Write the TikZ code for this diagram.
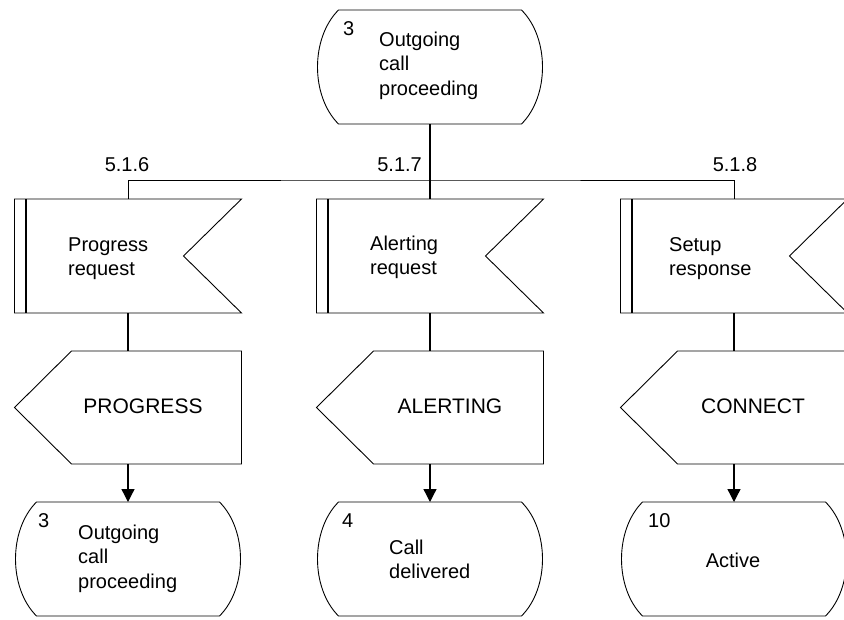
\documentclass[tikz,border=0pt]{standalone}
\usepackage{fontspec}
\setmainfont{Liberation Sans}
\usetikzlibrary{calc,arrows.meta}
\tikzset{
  shapebox/.style={minimum width=227pt, minimum height=114pt, inner sep=0pt, outer sep=0pt},
  outbox/.style={minimum width=227pt, minimum height=113pt, inner sep=0pt, outer sep=0pt},
  outline/.style={line width=0.9pt, line join=miter},
  barline/.style={line width=2pt},
  flow/.style={line width=1.3pt},
  arr/.style={flow, -{Triangle[width=13pt,length=13pt]}},
  txt/.style={font=\fontsize{20}{24.5}\selectfont, inner sep=0pt, align=left},
  captxt/.style={font=\fontsize{21}{25}\selectfont, inner sep=0pt},
}
\newcommand\sdlstate[1]{%
  \draw[outline] ($(#1.north west)+(22,0)$) -- ($(#1.north east)+(-22,0)$)
    .. controls +(28,28) and +(28,-28) .. ($(#1.south east)+(-22,0)$)
    -- ($(#1.south west)+(22,0)$)
    .. controls +(-28,-28) and +(-28,28) .. ($(#1.north west)+(22,0)$) -- cycle;}
\newcommand\sdlinput[1]{%
  \draw[outline] (#1.north west) -- (#1.north east) -- ($(#1.east)+(-58,0)$)
    -- (#1.south east) -- (#1.south west) -- cycle;
  \draw[barline] ($(#1.north west)+(11,0)$) -- ($(#1.south west)+(11,0)$);}
\newcommand\sdloutput[1]{%
  \draw[outline] (#1.west) -- ($(#1.north west)+(57,0)$) -- (#1.north east)
    -- (#1.south east) -- ($(#1.south west)+(57,0)$) -- cycle;}
\begin{document}
\begin{tikzpicture}[x=1pt, y=-1pt]
\useasboundingbox (0,0) rectangle (844,619);
\clip (0,0) rectangle (844,619);

% shape nodes
\node[shapebox] (s0) at (430,67) {};
\node[shapebox] (i1) at (128,256) {};
\node[shapebox] (i2) at (430,256) {};
\node[shapebox] (i3) at (734,256) {};
\node[outbox] (o1) at (128,407.5) {};
\node[outbox] (o2) at (430,407.5) {};
\node[outbox] (o3) at (734,407.5) {};
\node[shapebox] (s1) at (128,559) {};
\node[shapebox] (s2) at (430,559) {};
\node[shapebox] (s3) at (734,559) {};

\sdlstate{s0}
\sdlinput{i1}\sdlinput{i2}\sdlinput{i3}
\sdloutput{o1}\sdloutput{o2}\sdloutput{o3}
\sdlstate{s1}\sdlstate{s2}\sdlstate{s3}

% connectors
\coordinate (j) at (430,180);
\draw[flow] (s0.south) -- (i2.north);
\draw[outline] (i1.north) |- (j) -| (i3.north);
\draw[flow] (i1.south) -- (o1.north);
\draw[flow] (i2.south) -- (o2.north);
\draw[flow] (i3.south) -- (o3.north);
\draw[arr] (o1.south) -- (s1.north);
\draw[arr] (o2.south) -- (s2.north);
\draw[arr] (o3.south) -- (s3.north);

% labels
\node[txt, anchor=base] (l1) at (127,171) {5.1.6};
\node[txt, anchor=base east] (l2) at (422,171) {5.1.7};
\node[txt, anchor=base] (l3) at (735,171) {5.1.8};

% top state text (base = last line)
\node[txt, anchor=base west] (s0n) at (343,35) {3};
\node[txt, anchor=base west] (s0t) at (379,95) {Outgoing\\call\\proceeding};

% input texts
\node[txt, anchor=base west] (i1t) at (68,275.5) {Progress\\request};
\node[txt, anchor=base west] (i2t) at (370,274.5) {Alerting\\request};
\node[txt, anchor=base west] (i3t) at (669,275.5) {Setup\\response};

% output texts
\node[captxt, anchor=base] (o1t) at (143,413) {PROGRESS};
\node[captxt, anchor=base] (o2t) at (450,413) {ALERTING};
\node[captxt, anchor=base] (o3t) at (753,413) {CONNECT};

% bottom state texts
\node[txt, anchor=base west] (s1n) at (38,527) {3};
\node[txt, anchor=base west] (s1t) at (78,588) {Outgoing\\call\\proceeding};
\node[txt, anchor=base west] (s2n) at (342,527) {4};
\node[txt, anchor=base west] (s2t) at (389,578.5) {Call\\delivered};
\node[txt, anchor=base west] (s3n) at (648,527) {10};
\node[txt, anchor=base] (s3t) at (733,567) {Active};
\end{tikzpicture}
\end{document}
